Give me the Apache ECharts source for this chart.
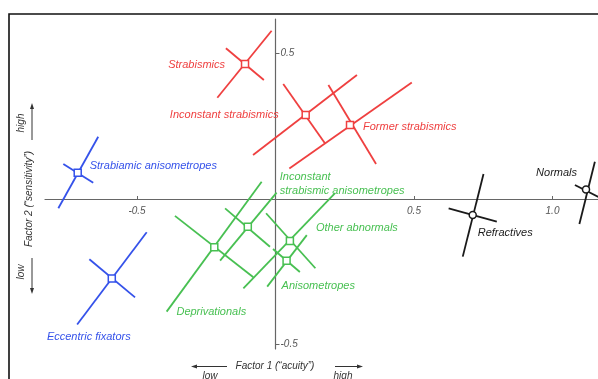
<!DOCTYPE html>
<html>
<head>
<meta charset="utf-8">
<script src="https://cdn.jsdelivr.net/npm/echarts@6/dist/echarts.min.js"></script>
<style>html,body{margin:0;padding:0;background:#fff}#c{width:598px;height:379px}</style>
</head>
<body>
<div id="c"></div>
<script>
// ---- data ----
const groups = ['Strabismics', 'Inconstant strabismics', 'Former strabismics',
  'Strabiamic anisometropes', 'Eccentric fixators',
  'Deprivationals', 'Inconstant\nstrabismic anisometropes', 'Other abnormals', 'Anisometropes',
  'Refractives', 'Normals'];
const groupClass = ['red', 'red', 'red', 'blue', 'blue', 'green', 'green', 'green', 'green', 'black', 'black'];
const centerX = [-0.110, 0.109, 0.269, -0.714, -0.591, -0.221, -0.100, 0.052, 0.040, 0.712, 1.121];
const centerY = [0.464, 0.289, 0.254, 0.090, -0.273, -0.166, -0.095, -0.144, -0.212, -0.055, 0.033];
const majorX1 = [-0.210, -0.081, 0.050, -0.640, -0.716, -0.393, -0.200, -0.116, -0.030, 0.676, 1.097];
const majorY1 = [0.348, 0.151, 0.105, 0.214, -0.431, -0.387, -0.212, -0.307, -0.301, -0.198, -0.086];
const majorX2 = [-0.014, 0.294, 0.492, -0.784, -0.465, -0.050, 0.004, 0.215, 0.113, 0.751, 1.153];
const majorY2 = [0.578, 0.426, 0.400, -0.032, -0.114, 0.059, 0.022, 0.020, -0.124, 0.086, 0.128];
const minorX1 = [-0.179, 0.028, 0.191, -0.766, -0.672, -0.363, -0.182, -0.034, -0.009, 0.625, 1.081];
const minorY1 = [0.518, 0.395, 0.392, 0.120, -0.207, -0.058, -0.032, -0.049, -0.172, -0.032, 0.048];
const minorX2 = [-0.042, 0.179, 0.363, -0.658, -0.507, -0.080, -0.020, 0.144, 0.088, 0.799, 1.208];
const minorY2 = [0.409, 0.191, 0.120, 0.056, -0.338, -0.269, -0.164, -0.238, -0.251, -0.078, -0.014];
const xTickValues = [-0.5, 0.5, 1.0];
const yTickValues = [-0.5, 0.5];

// ---- styles ----
const colors = { red: '#ef4040', blue: '#3552ea', green: '#48c052', black: '#1a1a1a' };
const labelStyle = [
  { align: 'right', offset: [-20, 1] },
  { align: 'right', offset: [-27, 0] },
  { align: 'left', offset: [13, 2] },
  { align: 'left', offset: [12, -7] },
  { align: 'center', offset: [-23, 58] },
  { align: 'center', offset: [-3, 65] },
  { align: 'left', offset: [32, -43], lineHeight: 14 },
  { align: 'left', offset: [26, -13] },
  { align: 'left', offset: [-5, 25] },
  { align: 'left', offset: [5, 18] },
  { align: 'right', offset: [-9, -16] }
];
const FONT = '"Liberation Sans", Arial, sans-serif';

const series = [];
groups.forEach((g, i) => {
  const col = colors[groupClass[i]];
  [[majorX1, majorY1, majorX2, majorY2], [minorX1, minorY1, minorX2, minorY2]].forEach(a => {
    series.push({
      type: 'line', clip: false, silent: true, showSymbol: false, symbol: 'none',
      lineStyle: { color: col, width: 1.8 },
      data: [[a[0][i], a[1][i]], [a[2][i], a[3][i]]], z: 2
    });
  });
  const ls = labelStyle[i];
  series.push({
    type: 'scatter', z: 5, clip: false,
    symbol: groupClass[i] === 'black' ? 'circle' : 'rect',
    symbolSize: 7,
    itemStyle: { color: '#fff', borderColor: col, borderWidth: 1.5, opacity: 1 },
    label: {
      show: true, position: 'inside', formatter: g,
      align: ls.align, verticalAlign: 'middle', offset: ls.offset,
      color: col, fontStyle: 'italic', fontSize: 11, fontFamily: FONT,
      lineHeight: ls.lineHeight || 12
    },
    data: [[centerX[i], centerY[i]]]
  });
});

// layout
const x0px = 275.5, y0px = 199, sx = 277, sy = 291;
const gridLeft = 45, gridTop = 19, gridW = 598 - 45, gridH = 330;
const xMin = (gridLeft - x0px) / sx, xMax = (gridLeft + gridW - x0px) / sx;
const yMax = (y0px - gridTop) / sy, yMin = (y0px - gridTop - gridH) / sy;

const txt = (x, y, s, rot) => ({
  type: 'text', x: x, y: y, rotation: rot || 0, z: 10,
  style: { text: s, fill: '#333', font: 'italic 10px ' + FONT, align: 'center', verticalAlign: 'middle' }
});
const ln = (x1, y1, x2, y2) => ({ type: 'line', z: 10, shape: { x1, y1, x2, y2 }, style: { stroke: '#333', lineWidth: 1 } });
const tri = (pts) => ({ type: 'polygon', z: 10, shape: { points: pts }, style: { fill: '#333' } });

const chart = echarts.init(document.getElementById('c'), null, { renderer: 'canvas' });
chart.setOption({
  animation: false,
  backgroundColor: '#fff',
  grid: { left: gridLeft, top: gridTop, width: gridW, height: gridH, containLabel: false, outerBoundsMode: 'none' },
  xAxis: {
    type: 'value', min: xMin, max: xMax, position: 'bottom',
    offset: -(gridTop + gridH - y0px),
    axisLine: { show: true, onZero: false, lineStyle: { color: '#666', width: 1.2 } },
    axisTick: { show: true, inside: true, length: 3, customValues: xTickValues, lineStyle: { color: '#666' } },
    axisLabel: { show: true, customValues: xTickValues, margin: 7, color: '#555', fontStyle: 'italic', fontSize: 10, fontFamily: FONT,
      formatter: v => v.toFixed(1) },
    splitLine: { show: false }
  },
  yAxis: {
    type: 'value', min: yMin, max: yMax, position: 'left',
    offset: -(x0px - gridLeft),
    axisLine: { show: true, onZero: false, lineStyle: { color: '#666', width: 1.2 } },
    axisTick: { show: true, inside: true, length: 4, customValues: yTickValues, lineStyle: { color: '#666' } },
    axisLabel: { show: true, inside: true, customValues: yTickValues, margin: 5, color: '#555', fontStyle: 'italic', fontSize: 10, fontFamily: FONT,
      formatter: v => v.toFixed(1) },
    splitLine: { show: false }
  },
  graphic: [
    { type: 'rect', z: 0, shape: { x: 9, y: 14, width: 700, height: 500 }, style: { fill: 'none', stroke: '#111', lineWidth: 1.6 } },
    txt(275, 366, 'Factor 1 (\u201cacuity\u201d)'),
    ln(196, 366.5, 227, 366.5), tri([[191, 366.5], [197, 364.5], [197, 368.5]]),
    ln(335, 366.5, 358, 366.5), tri([[363, 366.5], [357, 364.5], [357, 368.5]]),
    txt(210, 376, 'low'), txt(343, 376, 'high'),
    txt(29, 199, 'Factor 2 (\u201csensitivity\u201d)', Math.PI / 2),
    ln(32, 140, 32, 108), tri([[32, 103], [30, 109], [34, 109]]),
    ln(32, 258, 32, 289), tri([[32, 294], [30, 288], [34, 288]]),
    txt(21, 123, 'high', Math.PI / 2), txt(21, 272, 'low', Math.PI / 2)
  ],
  series: series
});
</script>
</body>
</html>
